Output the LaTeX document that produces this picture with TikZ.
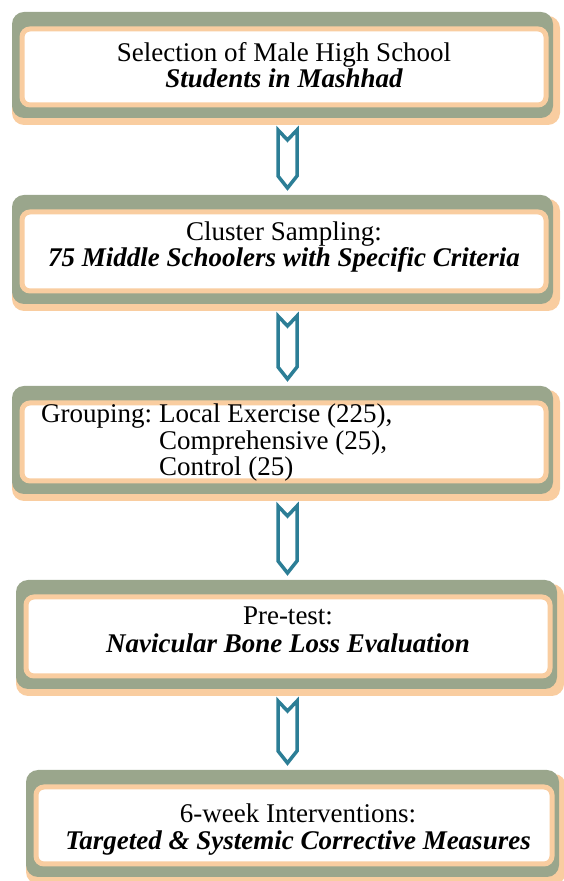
\documentclass[tikz,border=0pt]{standalone}
\usepackage{fontspec}
\setmainfont{Liberation Serif}
\usetikzlibrary{calc,backgrounds}
\definecolor{peach}{RGB}{249,205,160}
\definecolor{sage}{RGB}{154,166,140}
\definecolor{tealblue}{RGB}{44,126,150}

\begin{document}
\begin{tikzpicture}[x=1pt,y=1pt,
	box/.style={draw=peach,line width=5pt,fill=white,rounded corners=8pt,inner sep=0pt,outer sep=0pt},
	txt/.style={font=\fontsize{27}{26}\selectfont,inner sep=0pt,anchor=base},
	emtxt/.style={txt,font=\fontsize{27}{26}\selectfont\bfseries\itshape},
	chevline/.style={draw=tealblue,line width=3.5pt}]
		\useasboundingbox (0,0) rectangle (564,881);
		\coordinate (ax) at (287.5,0);
		\node[box,minimum width=524,minimum height=76] (b1) at (284,814) {};
		\node[box,minimum width=524,minimum height=79] (b2) at (284,629.5) {};
		\node[box,minimum width=524,minimum height=78] (b3) at (284,439) {};
		\node[box,minimum width=524,minimum height=79] (b4) at (288,244.5) {};
		\node[box,minimum width=516,minimum height=77] (b5) at (294,55.5) {};
		\begin{scope}[on background layer]
		\foreach \b in {b1,b2,b3,b4,b5}{
			\fill[peach,rounded corners=12pt] ($(\b.south west)+(-10,-20)$) rectangle ($(\b.north east)+(14,13)$);
			\fill[sage,rounded corners=12pt] ($(\b.south west)+(-10,-13)$) rectangle ($(\b.north east)+(7,17)$);
		}
		\end{scope}
		\node[txt] (t1) at (284,819) {Selection of Male High School};
		\node[emtxt] (t1b) at (284,793) {Students in Mashhad};
		\node[txt] (t2) at (284,640) {Cluster Sampling:};
		\node[emtxt] (t2b) at (284,614) {75 Middle Schoolers with Specific Criteria};
		\node[txt,anchor=base west,font=\fontsize{27}{24.5}\selectfont] (t3) at (41,458)
			{\begin{tabular}[t]{@{}l@{\hspace{7pt}}l@{}}Grouping: & Local Exercise (225),\\ & Comprehensive (25),\\ & Control (25)\end{tabular}};
		\node[txt] (t4) at (288,256) {Pre-test:};
		\node[emtxt] (t4b) at (288,228) {Navicular Bone Loss Evaluation};
		\node[txt] (t5) at (298,58) {6-week Interventions:};
		\node[emtxt] (t5b) at (298,31) {Targeted \& Systemic Corrective Measures};
		\foreach \a/\b in {b1/b2,b2/b3,b3/b4,b4/b5}
			\draw[chevline] let \p1=($(\a.south -| ax)+(0,-25)$), \p2=($(\b.north -| ax)+(0,24)$) in
				($(\p1)+(-9.5,0)$) -- ($(\p1)+(0,-10)$) -- ($(\p1)+(9.5,0)$) -- ($(\p2)+(9.5,12)$) -- (\p2) -- ($(\p2)+(-9.5,12)$) -- cycle;
\end{tikzpicture}
\end{document}
